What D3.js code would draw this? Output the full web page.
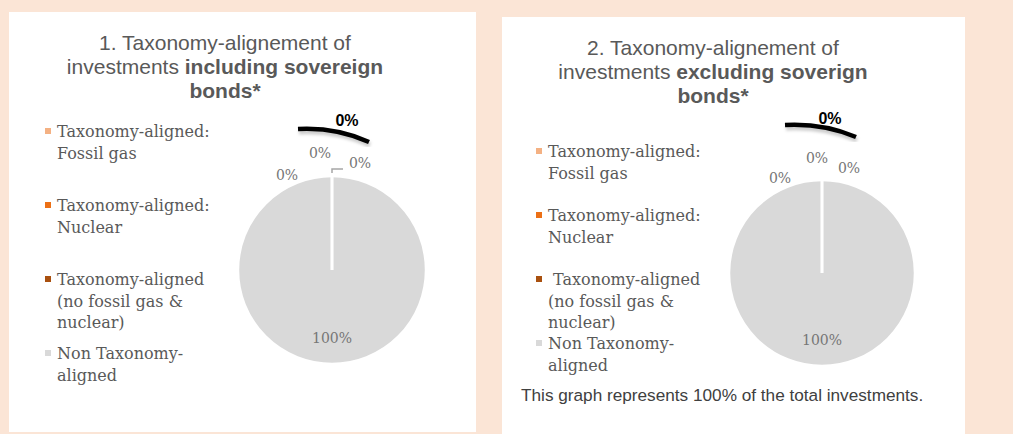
<!DOCTYPE html>
<html>
<head>
<meta charset="utf-8">
<script src="https://cdn.jsdelivr.net/npm/d3@7"></script>
<style>
  body { margin: 0; background: #FBE5D6; }
  svg { display: block; }
</style>
</head>
<body>
<div id="main"></div>
<script>
// ---- data ----
var legendLines = [
    ["Taxonomy-aligned:", "Fossil gas"],
    ["Taxonomy-aligned:", "Nuclear"],
    ["Taxonomy-aligned", "(no fossil gas &", "nuclear)"],
    ["Non Taxonomy-", "aligned"]
];
var sliceColors = ["#F4B183", "#EC7016", "#A9500F", "#D9D9D9"];
var valuesIncl = [0, 0, 0, 100];
var valuesExcl = [0, 0, 0, 100];
var titleIncl = [["1. Taxonomy-alignement of", ""], ["investments ", "including sovereign"], ["", "bonds*"]];
var titleExcl = [["2. Taxonomy-alignement of", ""], ["investments ", "excluding soverign"], ["", "bonds*"]];
var footnote = "This graph represents 100% of the total investments.";
var calloutLabel = "0%";

var ctx = {
    w: 1013,
    h: 434,
    TEXT: "#595959",
    LABEL: "#767676",
    sans: "'Liberation Sans', Arial, sans-serif",
    serif: "'DejaVu Serif', serif"
};

// layout of each panel (positions only)
var panels = [
    {
        values: valuesIncl, title: titleIncl,
        box: [9, 12, 467, 420],
        titleX: 225, titleY: 50,
        legendX: 45, legendY: 137, legendStep: 74, firstPad: [0, 0, 0, 0],
        cx: 332, cy: 270, r: 94,
        zeroLabels: [[-45, -95], [-12, -117], [28, -107]],
        leader: [[0, -97], [0, -101], [11, -101]],
        // start, control, end of the call-out stroke
        curve: [[-34, -141], [4, -143], [37, -128]],
        curveText: [15, -150],
        footer: false
    },
    {
        values: valuesExcl, title: titleExcl,
        box: [502, 17, 463, 417],
        titleX: 713, titleY: 55,
        legendX: 536, legendY: 157, legendStep: 64, firstPad: [0, 0, 5, 0],
        cx: 822, cy: 273, r: 93,
        zeroLabels: [[-42, -95], [-5, -115], [27, -105]],
        leader: null,
        curve: [[-37, -148], [1, -150], [34, -136]],
        curveText: [8, -155],
        footer: true
    }
];

var drawPanel = function(svgEl, p){
    svgEl.append("rect")
        .attr("x", p.box[0]).attr("y", p.box[1])
        .attr("width", p.box[2]).attr("height", p.box[3])
        .attr("fill", "#FFFFFF");

    // title, mixed normal / bold
    var t = svgEl.append("text")
        .attr("text-anchor", "middle")
        .attr("font-family", ctx.sans)
        .attr("font-size", 21)
        .attr("fill", ctx.TEXT);
    p.title.forEach(function(line, i){
        var first = t.append("tspan")
            .attr("x", p.titleX)
            .attr("y", p.titleY + i * 24)
            .text(line[0]);
        if (line[1] != ""){
            var b = t.append("tspan").attr("font-weight", "bold").text(line[1]);
            if (line[0] == ""){
                first.remove();
                b.attr("x", p.titleX).attr("y", p.titleY + i * 24);
            }
        }
    });

    // legend
    var lg = svgEl.append("g");
    legendLines.forEach(function(lines, i){
        var y0 = p.legendY + i * p.legendStep;
        lg.append("rect")
            .attr("x", p.legendX).attr("y", y0 - 9)
            .attr("width", 6).attr("height", 6)
            .attr("fill", sliceColors[i]);
        var txt = lg.append("text")
            .attr("font-family", ctx.serif)
            .attr("font-size", 16)
            .attr("fill", ctx.TEXT);
        lines.forEach(function(s, j){
            txt.append("tspan")
                .attr("x", p.legendX + 12 + (j == 0 ? p.firstPad[i] : 0))
                .attr("y", y0 + j * 21.5)
                .text(s);
        });
    });

    // pie
    var pie = d3.pie().sort(null).value(d => d);
    var arcs = pie(p.values);
    var arc = d3.arc().innerRadius(0).outerRadius(p.r);
    var g = svgEl.append("g").attr("transform", "translate(" + p.cx + "," + p.cy + ")");
    g.selectAll("path.fill").data(arcs).enter().append("path")
        .attr("class", "fill")
        .attr("d", arc)
        .attr("fill", (d, i) => sliceColors[i]);
    // slice borders drawn on top so the zero slices show as a white spoke
    g.selectAll("path.edge").data(arcs).enter().append("path")
        .attr("class", "edge")
        .attr("d", arc)
        .attr("fill", "none")
        .attr("stroke", "#FFFFFF")
        .attr("stroke-width", 2.5);

    // data labels
    var labelArc = d3.arc().innerRadius(p.r * 0.72).outerRadius(p.r * 0.72);
    var zi = 0;
    arcs.forEach(function(d){
        var pos;
        if (d.value > 0){
            pos = labelArc.centroid(d);
        } else {
            pos = p.zeroLabels[zi++];
        }
        g.append("text")
            .attr("x", pos[0]).attr("y", pos[1])
            .attr("dy", "0.35em")
            .attr("text-anchor", "middle")
            .attr("font-family", ctx.serif)
            .attr("font-size", 14)
            .attr("fill", ctx.LABEL)
            .text(d.value + "%");
    });

    if (p.leader){
        g.append("path")
            .attr("d", d3.line()(p.leader))
            .attr("fill", "none")
            .attr("stroke", "#A6A6A6")
            .attr("stroke-width", 1.5);
    }

    // bold call-out curve
    var cp = d3.path();
    cp.moveTo(p.curve[0][0], p.curve[0][1]);
    cp.quadraticCurveTo(p.curve[1][0], p.curve[1][1], p.curve[2][0], p.curve[2][1]);
    g.append("path")
        .attr("d", cp.toString())
        .attr("transform", "translate(1,3)")
        .attr("fill", "none")
        .attr("stroke", "#000000")
        .attr("stroke-opacity", 0.2)
        .attr("stroke-width", 5)
        .attr("filter", "url(#blur)");
    g.append("path")
        .attr("d", cp.toString())
        .attr("fill", "none")
        .attr("stroke", "#000000")
        .attr("stroke-width", 4.5);
    g.append("text")
        .attr("x", p.curveText[0]).attr("y", p.curveText[1])
        .attr("dy", "0.35em")
        .attr("text-anchor", "middle")
        .attr("font-family", ctx.sans)
        .attr("font-weight", "bold")
        .attr("font-size", 16)
        .attr("fill", "#000000")
        .text(calloutLabel);

    if (p.footer){
        svgEl.append("text")
            .attr("x", 521).attr("y", 401)
            .attr("font-family", ctx.sans)
            .attr("font-size", 17.2)
            .attr("fill", "#404040")
            .text(footnote);
    }
};

var createViz = function(){
    var svgEl = d3.select("#main").append("svg")
        .attr("width", ctx.w)
        .attr("height", ctx.h);
    svgEl.append("defs").append("filter").attr("id", "blur")
        .append("feGaussianBlur").attr("stdDeviation", 1.5);
    svgEl.append("rect")
        .attr("width", ctx.w).attr("height", ctx.h)
        .attr("fill", "#FBE5D6");
    panels.forEach(p => drawPanel(svgEl, p));
};

createViz();
</script>
</body>
</html>
